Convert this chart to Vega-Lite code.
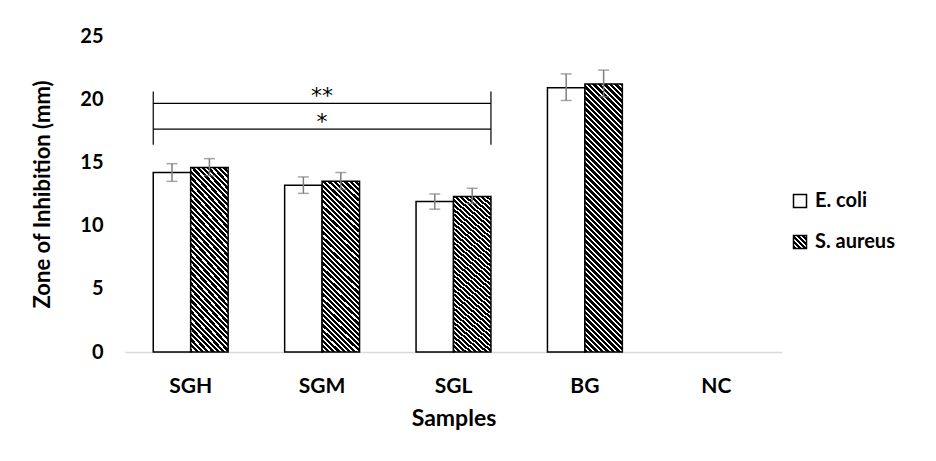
{
  "$schema": "https://vega.github.io/schema/vega-lite/v6.json",
  "width": 657,
  "height": 316,
  "autosize": "none",
  "padding": {"left": 125, "top": 36, "right": 154, "bottom": 109},
  "background": "white",
  "config": {
    "view": {"stroke": null},
    "font": "Lato",
    "axis": {"labelColor": "#000", "titleColor": "#000", "labelFont": "Lato", "titleFont": "Lato", "labelFontWeight": "bold", "titleFontWeight": "bold", "grid": false, "ticks": false},
    "axisX": {"domainColor": "#d9d9d9", "domainWidth": 1.5, "labelFontSize": 21, "labelPadding": 23, "labelAngle": 0, "titleFontSize": 23, "titlePadding": 11},
    "axisY": {"domain": false, "labelFontSize": 20, "labelPadding": 22, "titleFontSize": 22, "titlePadding": 25}
  },
  "datasets": {
    "bars": [
      {"Sample": "SGH", "Strain": "E. coli", "Zone": 14.2, "Lo": 13.5, "Hi": 14.9},
      {"Sample": "SGH", "Strain": "S. aureus", "Zone": 14.6, "Lo": 13.95, "Hi": 15.3},
      {"Sample": "SGM", "Strain": "E. coli", "Zone": 13.2, "Lo": 12.55, "Hi": 13.85},
      {"Sample": "SGM", "Strain": "S. aureus", "Zone": 13.5, "Lo": 12.85, "Hi": 14.2},
      {"Sample": "SGL", "Strain": "E. coli", "Zone": 11.9, "Lo": 11.3, "Hi": 12.5},
      {"Sample": "SGL", "Strain": "S. aureus", "Zone": 12.3, "Lo": 11.75, "Hi": 12.95},
      {"Sample": "BG", "Strain": "E. coli", "Zone": 20.9, "Lo": 19.9, "Hi": 22.0},
      {"Sample": "BG", "Strain": "S. aureus", "Zone": 21.2, "Lo": 20.2, "Hi": 22.3},
      {"Sample": "NC", "Strain": "E. coli", "Zone": 0, "Lo": 0, "Hi": 0},
      {"Sample": "NC", "Strain": "S. aureus", "Zone": 0, "Lo": 0, "Hi": 0}
    ],
    "brackets": [
      {"from": "SGH", "to": "SGL", "mid": "SGM", "level": 19.67, "label": "**"},
      {"from": "SGH", "to": "SGL", "mid": "SGM", "level": 17.64, "label": "*"}
    ],
    "ends": [
      {"from": "SGH", "to": "SGL", "top": 20.6, "bottom": 16.4}
    ]
  },
  "layer": [
    {
      "data": {"name": "bars"},
      "mark": {"type": "bar", "stroke": "#000", "strokeWidth": 1.5},
      "encoding": {
        "x": {"field": "Sample", "type": "nominal", "title": "Samples", "scale": {"domain": ["SGH", "SGM", "SGL", "BG", "NC"], "paddingInner": 0.43, "paddingOuter": 0.215}},
        "xOffset": {"field": "Strain", "type": "nominal", "scale": {"domain": ["E. coli", "S. aureus"]}},
        "y": {"field": "Zone", "type": "quantitative", "title": "Zone of Inhibition (mm)", "scale": {"domain": [0, 25], "nice": false}, "axis": {"values": [0, 5, 10, 15, 20, 25]}},
        "strokeOpacity": {"condition": {"test": "datum.Zone === 0", "value": 0}, "value": 1},
        "fill": {
          "field": "Strain", "type": "nominal",
          "scale": {"domain": ["E. coli", "S. aureus"], "range": ["#ffffff", {"expr": "{gradient: 'linear', x1: 0, y1: 1, x2: 1, y2: 0, stops: [{offset: 0, color: '#000'}, {offset: 0.12, color: '#000'}, {offset: 0.12, color: '#fff'}, {offset: 0.2, color: '#fff'}, {offset: 0.2, color: '#000'}, {offset: 0.32, color: '#000'}, {offset: 0.32, color: '#fff'}, {offset: 0.4, color: '#fff'}, {offset: 0.4, color: '#000'}, {offset: 0.52, color: '#000'}, {offset: 0.52, color: '#fff'}, {offset: 0.6, color: '#fff'}, {offset: 0.6, color: '#000'}, {offset: 0.72, color: '#000'}, {offset: 0.72, color: '#fff'}, {offset: 0.8, color: '#fff'}, {offset: 0.8, color: '#000'}, {offset: 0.92, color: '#000'}, {offset: 0.92, color: '#fff'}, {offset: 1, color: '#fff'}]}"}]},
          "condition": [
            {"test": "datum.Strain === 'S. aureus' && datum.Sample === 'BG'", "value": {"gradient": "linear", "x1": 0, "y1": 1, "x2": 0.1565, "y2": -0.118, "stops": [
              {"offset":0,"color":"#000"},{"offset":0.0108,"color":"#000"},{"offset":0.0108,"color":"#fff"},{"offset":0.018,"color":"#fff"},
              {"offset":0.018,"color":"#000"},{"offset":0.0288,"color":"#000"},{"offset":0.0288,"color":"#fff"},{"offset":0.036,"color":"#fff"},
              {"offset":0.036,"color":"#000"},{"offset":0.0468,"color":"#000"},{"offset":0.0468,"color":"#fff"},{"offset":0.054,"color":"#fff"},
              {"offset":0.054,"color":"#000"},{"offset":0.0648,"color":"#000"},{"offset":0.0648,"color":"#fff"},{"offset":0.072,"color":"#fff"},
              {"offset":0.072,"color":"#000"},{"offset":0.0828,"color":"#000"},{"offset":0.0828,"color":"#fff"},{"offset":0.09,"color":"#fff"},
              {"offset":0.09,"color":"#000"},{"offset":0.1008,"color":"#000"},{"offset":0.1008,"color":"#fff"},{"offset":0.108,"color":"#fff"},
              {"offset":0.108,"color":"#000"},{"offset":0.1188,"color":"#000"},{"offset":0.1188,"color":"#fff"},{"offset":0.126,"color":"#fff"},
              {"offset":0.126,"color":"#000"},{"offset":0.1368,"color":"#000"},{"offset":0.1368,"color":"#fff"},{"offset":0.144,"color":"#fff"},
              {"offset":0.144,"color":"#000"},{"offset":0.1548,"color":"#000"},{"offset":0.1548,"color":"#fff"},{"offset":0.162,"color":"#fff"},
              {"offset":0.162,"color":"#000"},{"offset":0.1728,"color":"#000"},{"offset":0.1728,"color":"#fff"},{"offset":0.18,"color":"#fff"},
              {"offset":0.18,"color":"#000"},{"offset":0.1908,"color":"#000"},{"offset":0.1908,"color":"#fff"},{"offset":0.198,"color":"#fff"},
              {"offset":0.198,"color":"#000"},{"offset":0.2088,"color":"#000"},{"offset":0.2088,"color":"#fff"},{"offset":0.216,"color":"#fff"},
              {"offset":0.216,"color":"#000"},{"offset":0.2268,"color":"#000"},{"offset":0.2268,"color":"#fff"},{"offset":0.234,"color":"#fff"},
              {"offset":0.234,"color":"#000"},{"offset":0.2448,"color":"#000"},{"offset":0.2448,"color":"#fff"},{"offset":0.252,"color":"#fff"},
              {"offset":0.252,"color":"#000"},{"offset":0.2628,"color":"#000"},{"offset":0.2628,"color":"#fff"},{"offset":0.27,"color":"#fff"},
              {"offset":0.27,"color":"#000"},{"offset":0.2808,"color":"#000"},{"offset":0.2808,"color":"#fff"},{"offset":0.288,"color":"#fff"},
              {"offset":0.288,"color":"#000"},{"offset":0.2988,"color":"#000"},{"offset":0.2988,"color":"#fff"},{"offset":0.306,"color":"#fff"},
              {"offset":0.306,"color":"#000"},{"offset":0.3168,"color":"#000"},{"offset":0.3168,"color":"#fff"},{"offset":0.324,"color":"#fff"},
              {"offset":0.324,"color":"#000"},{"offset":0.3348,"color":"#000"},{"offset":0.3348,"color":"#fff"},{"offset":0.342,"color":"#fff"},
              {"offset":0.342,"color":"#000"},{"offset":0.3528,"color":"#000"},{"offset":0.3528,"color":"#fff"},{"offset":0.36,"color":"#fff"},
              {"offset":0.36,"color":"#000"},{"offset":0.3708,"color":"#000"},{"offset":0.3708,"color":"#fff"},{"offset":0.378,"color":"#fff"},
              {"offset":0.378,"color":"#000"},{"offset":0.3888,"color":"#000"},{"offset":0.3888,"color":"#fff"},{"offset":0.396,"color":"#fff"},
              {"offset":0.396,"color":"#000"},{"offset":0.4068,"color":"#000"},{"offset":0.4068,"color":"#fff"},{"offset":0.414,"color":"#fff"},
              {"offset":0.414,"color":"#000"},{"offset":0.4248,"color":"#000"},{"offset":0.4248,"color":"#fff"},{"offset":0.432,"color":"#fff"},
              {"offset":0.432,"color":"#000"},{"offset":0.4428,"color":"#000"},{"offset":0.4428,"color":"#fff"},{"offset":0.45,"color":"#fff"},
              {"offset":0.45,"color":"#000"},{"offset":0.4608,"color":"#000"},{"offset":0.4608,"color":"#fff"},{"offset":0.468,"color":"#fff"},
              {"offset":0.468,"color":"#000"},{"offset":0.4788,"color":"#000"},{"offset":0.4788,"color":"#fff"},{"offset":0.486,"color":"#fff"},
              {"offset":0.486,"color":"#000"},{"offset":0.4968,"color":"#000"},{"offset":0.4968,"color":"#fff"},{"offset":0.504,"color":"#fff"},
              {"offset":0.504,"color":"#000"},{"offset":0.5148,"color":"#000"},{"offset":0.5148,"color":"#fff"},{"offset":0.522,"color":"#fff"},
              {"offset":0.522,"color":"#000"},{"offset":0.5328,"color":"#000"},{"offset":0.5328,"color":"#fff"},{"offset":0.54,"color":"#fff"},
              {"offset":0.54,"color":"#000"},{"offset":0.5508,"color":"#000"},{"offset":0.5508,"color":"#fff"},{"offset":0.558,"color":"#fff"},
              {"offset":0.558,"color":"#000"},{"offset":0.5688,"color":"#000"},{"offset":0.5688,"color":"#fff"},{"offset":0.576,"color":"#fff"},
              {"offset":0.576,"color":"#000"},{"offset":0.5868,"color":"#000"},{"offset":0.5868,"color":"#fff"},{"offset":0.594,"color":"#fff"},
              {"offset":0.594,"color":"#000"},{"offset":0.6048,"color":"#000"},{"offset":0.6048,"color":"#fff"},{"offset":0.612,"color":"#fff"},
              {"offset":0.612,"color":"#000"},{"offset":0.6228,"color":"#000"},{"offset":0.6228,"color":"#fff"},{"offset":0.63,"color":"#fff"},
              {"offset":0.63,"color":"#000"},{"offset":0.6408,"color":"#000"},{"offset":0.6408,"color":"#fff"},{"offset":0.648,"color":"#fff"},
              {"offset":0.648,"color":"#000"},{"offset":0.6588,"color":"#000"},{"offset":0.6588,"color":"#fff"},{"offset":0.666,"color":"#fff"},
              {"offset":0.666,"color":"#000"},{"offset":0.6768,"color":"#000"},{"offset":0.6768,"color":"#fff"},{"offset":0.684,"color":"#fff"},
              {"offset":0.684,"color":"#000"},{"offset":0.6948,"color":"#000"},{"offset":0.6948,"color":"#fff"},{"offset":0.702,"color":"#fff"},
              {"offset":0.702,"color":"#000"},{"offset":0.7128,"color":"#000"},{"offset":0.7128,"color":"#fff"},{"offset":0.72,"color":"#fff"},
              {"offset":0.72,"color":"#000"},{"offset":0.7308,"color":"#000"},{"offset":0.7308,"color":"#fff"},{"offset":0.738,"color":"#fff"},
              {"offset":0.738,"color":"#000"},{"offset":0.7488,"color":"#000"},{"offset":0.7488,"color":"#fff"},{"offset":0.756,"color":"#fff"},
              {"offset":0.756,"color":"#000"},{"offset":0.7668,"color":"#000"},{"offset":0.7668,"color":"#fff"},{"offset":0.774,"color":"#fff"},
              {"offset":0.774,"color":"#000"},{"offset":0.7848,"color":"#000"},{"offset":0.7848,"color":"#fff"},{"offset":0.792,"color":"#fff"},
              {"offset":0.792,"color":"#000"},{"offset":0.8028,"color":"#000"},{"offset":0.8028,"color":"#fff"},{"offset":0.81,"color":"#fff"},
              {"offset":0.81,"color":"#000"},{"offset":0.8208,"color":"#000"},{"offset":0.8208,"color":"#fff"},{"offset":0.828,"color":"#fff"},
              {"offset":0.828,"color":"#000"},{"offset":0.8388,"color":"#000"},{"offset":0.8388,"color":"#fff"},{"offset":0.846,"color":"#fff"},
              {"offset":0.846,"color":"#000"},{"offset":0.8568,"color":"#000"},{"offset":0.8568,"color":"#fff"},{"offset":0.864,"color":"#fff"},
              {"offset":0.864,"color":"#000"},{"offset":0.8748,"color":"#000"},{"offset":0.8748,"color":"#fff"},{"offset":0.882,"color":"#fff"},
              {"offset":0.882,"color":"#000"},{"offset":0.8928,"color":"#000"},{"offset":0.8928,"color":"#fff"},{"offset":0.9,"color":"#fff"},
              {"offset":0.9,"color":"#000"},{"offset":0.9108,"color":"#000"},{"offset":0.9108,"color":"#fff"},{"offset":0.918,"color":"#fff"},
              {"offset":0.918,"color":"#000"},{"offset":0.9288,"color":"#000"},{"offset":0.9288,"color":"#fff"},{"offset":0.936,"color":"#fff"},
              {"offset":0.936,"color":"#000"},{"offset":0.9468,"color":"#000"},{"offset":0.9468,"color":"#fff"},{"offset":0.954,"color":"#fff"},
              {"offset":0.954,"color":"#000"},{"offset":0.9648,"color":"#000"},{"offset":0.9648,"color":"#fff"},{"offset":0.972,"color":"#fff"},
              {"offset":0.972,"color":"#000"},{"offset":0.9828,"color":"#000"},{"offset":0.9828,"color":"#fff"},{"offset":0.99,"color":"#fff"},
              {"offset":0.99,"color":"#000"},{"offset":1,"color":"#000"}
            ]}},
            {"test": "datum.Strain === 'S. aureus'", "value": {"gradient": "linear", "x1": 0, "y1": 1, "x2": 0.3447, "y2": -0.6087, "stops": [
              {"offset":0,"color":"#000"},{"offset":0.0108,"color":"#000"},{"offset":0.0108,"color":"#fff"},{"offset":0.018,"color":"#fff"},
              {"offset":0.018,"color":"#000"},{"offset":0.0288,"color":"#000"},{"offset":0.0288,"color":"#fff"},{"offset":0.036,"color":"#fff"},
              {"offset":0.036,"color":"#000"},{"offset":0.0468,"color":"#000"},{"offset":0.0468,"color":"#fff"},{"offset":0.054,"color":"#fff"},
              {"offset":0.054,"color":"#000"},{"offset":0.0648,"color":"#000"},{"offset":0.0648,"color":"#fff"},{"offset":0.072,"color":"#fff"},
              {"offset":0.072,"color":"#000"},{"offset":0.0828,"color":"#000"},{"offset":0.0828,"color":"#fff"},{"offset":0.09,"color":"#fff"},
              {"offset":0.09,"color":"#000"},{"offset":0.1008,"color":"#000"},{"offset":0.1008,"color":"#fff"},{"offset":0.108,"color":"#fff"},
              {"offset":0.108,"color":"#000"},{"offset":0.1188,"color":"#000"},{"offset":0.1188,"color":"#fff"},{"offset":0.126,"color":"#fff"},
              {"offset":0.126,"color":"#000"},{"offset":0.1368,"color":"#000"},{"offset":0.1368,"color":"#fff"},{"offset":0.144,"color":"#fff"},
              {"offset":0.144,"color":"#000"},{"offset":0.1548,"color":"#000"},{"offset":0.1548,"color":"#fff"},{"offset":0.162,"color":"#fff"},
              {"offset":0.162,"color":"#000"},{"offset":0.1728,"color":"#000"},{"offset":0.1728,"color":"#fff"},{"offset":0.18,"color":"#fff"},
              {"offset":0.18,"color":"#000"},{"offset":0.1908,"color":"#000"},{"offset":0.1908,"color":"#fff"},{"offset":0.198,"color":"#fff"},
              {"offset":0.198,"color":"#000"},{"offset":0.2088,"color":"#000"},{"offset":0.2088,"color":"#fff"},{"offset":0.216,"color":"#fff"},
              {"offset":0.216,"color":"#000"},{"offset":0.2268,"color":"#000"},{"offset":0.2268,"color":"#fff"},{"offset":0.234,"color":"#fff"},
              {"offset":0.234,"color":"#000"},{"offset":0.2448,"color":"#000"},{"offset":0.2448,"color":"#fff"},{"offset":0.252,"color":"#fff"},
              {"offset":0.252,"color":"#000"},{"offset":0.2628,"color":"#000"},{"offset":0.2628,"color":"#fff"},{"offset":0.27,"color":"#fff"},
              {"offset":0.27,"color":"#000"},{"offset":0.2808,"color":"#000"},{"offset":0.2808,"color":"#fff"},{"offset":0.288,"color":"#fff"},
              {"offset":0.288,"color":"#000"},{"offset":0.2988,"color":"#000"},{"offset":0.2988,"color":"#fff"},{"offset":0.306,"color":"#fff"},
              {"offset":0.306,"color":"#000"},{"offset":0.3168,"color":"#000"},{"offset":0.3168,"color":"#fff"},{"offset":0.324,"color":"#fff"},
              {"offset":0.324,"color":"#000"},{"offset":0.3348,"color":"#000"},{"offset":0.3348,"color":"#fff"},{"offset":0.342,"color":"#fff"},
              {"offset":0.342,"color":"#000"},{"offset":0.3528,"color":"#000"},{"offset":0.3528,"color":"#fff"},{"offset":0.36,"color":"#fff"},
              {"offset":0.36,"color":"#000"},{"offset":0.3708,"color":"#000"},{"offset":0.3708,"color":"#fff"},{"offset":0.378,"color":"#fff"},
              {"offset":0.378,"color":"#000"},{"offset":0.3888,"color":"#000"},{"offset":0.3888,"color":"#fff"},{"offset":0.396,"color":"#fff"},
              {"offset":0.396,"color":"#000"},{"offset":0.4068,"color":"#000"},{"offset":0.4068,"color":"#fff"},{"offset":0.414,"color":"#fff"},
              {"offset":0.414,"color":"#000"},{"offset":0.4248,"color":"#000"},{"offset":0.4248,"color":"#fff"},{"offset":0.432,"color":"#fff"},
              {"offset":0.432,"color":"#000"},{"offset":0.4428,"color":"#000"},{"offset":0.4428,"color":"#fff"},{"offset":0.45,"color":"#fff"},
              {"offset":0.45,"color":"#000"},{"offset":0.4608,"color":"#000"},{"offset":0.4608,"color":"#fff"},{"offset":0.468,"color":"#fff"},
              {"offset":0.468,"color":"#000"},{"offset":0.4788,"color":"#000"},{"offset":0.4788,"color":"#fff"},{"offset":0.486,"color":"#fff"},
              {"offset":0.486,"color":"#000"},{"offset":0.4968,"color":"#000"},{"offset":0.4968,"color":"#fff"},{"offset":0.504,"color":"#fff"},
              {"offset":0.504,"color":"#000"},{"offset":0.5148,"color":"#000"},{"offset":0.5148,"color":"#fff"},{"offset":0.522,"color":"#fff"},
              {"offset":0.522,"color":"#000"},{"offset":0.5328,"color":"#000"},{"offset":0.5328,"color":"#fff"},{"offset":0.54,"color":"#fff"},
              {"offset":0.54,"color":"#000"},{"offset":0.5508,"color":"#000"},{"offset":0.5508,"color":"#fff"},{"offset":0.558,"color":"#fff"},
              {"offset":0.558,"color":"#000"},{"offset":0.5688,"color":"#000"},{"offset":0.5688,"color":"#fff"},{"offset":0.576,"color":"#fff"},
              {"offset":0.576,"color":"#000"},{"offset":0.5868,"color":"#000"},{"offset":0.5868,"color":"#fff"},{"offset":0.594,"color":"#fff"},
              {"offset":0.594,"color":"#000"},{"offset":0.6048,"color":"#000"},{"offset":0.6048,"color":"#fff"},{"offset":0.612,"color":"#fff"},
              {"offset":0.612,"color":"#000"},{"offset":0.6228,"color":"#000"},{"offset":0.6228,"color":"#fff"},{"offset":0.63,"color":"#fff"},
              {"offset":0.63,"color":"#000"},{"offset":0.6408,"color":"#000"},{"offset":0.6408,"color":"#fff"},{"offset":0.648,"color":"#fff"},
              {"offset":0.648,"color":"#000"},{"offset":0.6588,"color":"#000"},{"offset":0.6588,"color":"#fff"},{"offset":0.666,"color":"#fff"},
              {"offset":0.666,"color":"#000"},{"offset":0.6768,"color":"#000"},{"offset":0.6768,"color":"#fff"},{"offset":0.684,"color":"#fff"},
              {"offset":0.684,"color":"#000"},{"offset":0.6948,"color":"#000"},{"offset":0.6948,"color":"#fff"},{"offset":0.702,"color":"#fff"},
              {"offset":0.702,"color":"#000"},{"offset":0.7128,"color":"#000"},{"offset":0.7128,"color":"#fff"},{"offset":0.72,"color":"#fff"},
              {"offset":0.72,"color":"#000"},{"offset":0.7308,"color":"#000"},{"offset":0.7308,"color":"#fff"},{"offset":0.738,"color":"#fff"}
            ]}}
          ],
          "legend": {
            "orient": "none", "legendX": 665, "legendY": 155, "title": null,
            "symbolType": "square", "symbolSize": 169, "symbolStrokeColor": "#000", "symbolStrokeWidth": 1.5,
            "labelFont": "Lato", "labelFontWeight": "bold", "labelFontSize": 20, "labelColor": "#000",
            "labelOffset": 5, "rowPadding": 21, "padding": 0
          }
        }
      }
    },
    {
      "data": {"name": "bars"},
      "transform": [{"filter": "datum.Hi > datum.Lo"}],
      "mark": {"type": "rule", "color": "#7f7f7f", "strokeWidth": 1.5},
      "encoding": {
        "x": {"field": "Sample", "type": "nominal", "title": "Samples"},
        "xOffset": {"field": "Strain", "type": "nominal"},
        "y": {"field": "Lo", "type": "quantitative", "title": "Zone of Inhibition (mm)"},
        "y2": {"field": "Hi"}
      }
    },
    {
      "data": {"name": "bars"},
      "transform": [{"filter": "datum.Hi > datum.Lo"}],
      "mark": {"type": "tick", "color": "#7f7f7f", "size": 11, "thickness": 1.5},
      "encoding": {
        "x": {"field": "Sample", "type": "nominal", "title": "Samples"},
        "xOffset": {"field": "Strain", "type": "nominal"},
        "y": {"field": "Lo", "type": "quantitative", "title": "Zone of Inhibition (mm)"}
      }
    },
    {
      "data": {"name": "bars"},
      "transform": [{"filter": "datum.Hi > datum.Lo"}],
      "mark": {"type": "tick", "color": "#7f7f7f", "size": 11, "thickness": 1.5},
      "encoding": {
        "x": {"field": "Sample", "type": "nominal", "title": "Samples"},
        "xOffset": {"field": "Strain", "type": "nominal"},
        "y": {"field": "Hi", "type": "quantitative", "title": "Zone of Inhibition (mm)"}
      }
    },
    {
      "data": {"name": "brackets"},
      "mark": {"type": "rule", "color": "#000", "strokeWidth": 1.2},
      "encoding": {
        "x": {"field": "from", "type": "nominal", "bandPosition": 0, "title": "Samples"},
        "x2": {"field": "to", "bandPosition": 1},
        "y": {"field": "level", "type": "quantitative", "title": "Zone of Inhibition (mm)"}
      }
    },
    {
      "data": {"name": "ends"},
      "mark": {"type": "rule", "color": "#000", "strokeWidth": 1.2},
      "encoding": {
        "x": {"field": "from", "type": "nominal", "bandPosition": 0, "title": "Samples"},
        "y": {"field": "top", "type": "quantitative", "title": "Zone of Inhibition (mm)"},
        "y2": {"field": "bottom"}
      }
    },
    {
      "data": {"name": "ends"},
      "mark": {"type": "rule", "color": "#000", "strokeWidth": 1.2},
      "encoding": {
        "x": {"field": "to", "type": "nominal", "bandPosition": 1, "title": "Samples"},
        "y": {"field": "top", "type": "quantitative", "title": "Zone of Inhibition (mm)"},
        "y2": {"field": "bottom"}
      }
    },
    {
      "data": {"name": "brackets"},
      "mark": {"type": "text", "font": "DejaVu Sans", "fontSize": 22, "baseline": "alphabetic", "align": "center", "color": "#000"},
      "encoding": {
        "x": {"field": "mid", "type": "nominal", "title": "Samples"},
        "y": {"field": "level", "type": "quantitative", "title": "Zone of Inhibition (mm)"},
        "text": {"field": "label"}
      }
    }
  ]
}
